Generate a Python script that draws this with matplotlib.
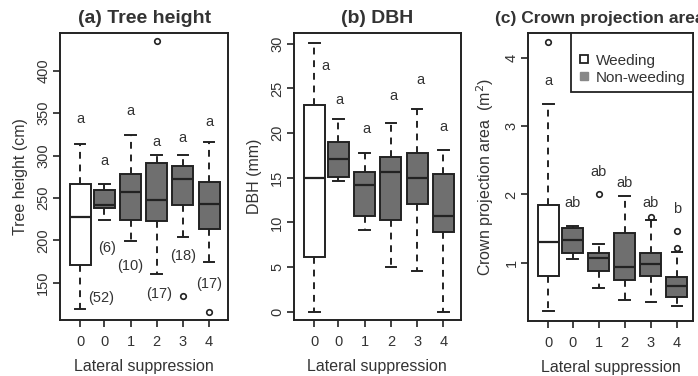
"""
Box plots of seedling growth by lateral suppression class, weeding vs non-weeding.
"""

import matplotlib
matplotlib.use("Agg")  # Non-interactive backend
import matplotlib.pyplot as plt
from matplotlib.lines import Line2D

plt.rcParams["font.family"] = ["Liberation Sans", "DejaVu Sans"]

# ---- data ----
group_labels = ["0", "0", "1", "2", "3", "4"]
weeding_flags = [True, False, False, False, False, False]

# (a) tree height, cm
height_q1 = [170.5, 238, 224, 223, 241.6, 213]
height_med = [228, 242, 257, 247, 272, 243]
height_q3 = [267, 259, 278, 291, 288, 269]
height_lo = [119, 224, 199, 160, 204, 174]
height_hi = [314, 267, 324, 301, 301, 316]
height_fliers = [[], [], [], [435], [134], [116]]
height_letters = ["a", "a", "a", "a", "a", "a"]
height_letter_y = [343, 293, 352, 316, 321, 340]
height_counts = ["(52)", "(6)", "(10)", "(17)", "(18)", "(17)"]
height_count_y = [132, 191, 170, 137, 181.5, 148.5]

# (b) DBH, mm
dbh_q1 = [6.15, 15.1, 10.7, 10.3, 12.1, 8.95]
dbh_med = [15.0, 17.07, 14.2, 15.6, 15.0, 10.7]
dbh_q3 = [23.2, 19.0, 15.6, 17.3, 17.8, 15.4]
dbh_lo = [0.0, 14.6, 9.1, 4.96, 4.5, 0.0]
dbh_hi = [30.1, 21.6, 17.8, 21.1, 22.7, 18.1]
dbh_fliers = [[], [], [], [], [], []]
dbh_letters = ["a", "a", "a", "a", "a", "a"]
dbh_letter_y = [27.5, 23.7, 20.5, 24.2, 25.9, 20.7]

# (c) crown projection area, m2
crown_q1 = [0.80, 1.14, 0.88, 0.75, 0.80, 0.49]
crown_med = [1.30, 1.33, 1.07, 0.94, 0.975, 0.65]
crown_q3 = [1.84, 1.50, 1.14, 1.44, 1.14, 0.78]
crown_lo = [0.29, 1.05, 0.62, 0.45, 0.42, 0.36]
crown_hi = [3.33, 1.53, 1.27, 1.97, 1.62, 1.155]
crown_fliers = [[4.24], [], [2.01], [], [1.67], [1.46, 1.21]]
crown_letters = ["a", "ab", "ab", "ab", "ab", "b"]
crown_letter_y = [3.67, 1.87, 2.33, 2.17, 1.87, 1.78]

# ---- layout / style ----
POSITIONS = [1.0, 1.92, 2.92, 3.92, 4.92, 5.92]
LINE = "#222222"
TEXT = "#333333"
GRAY = "#6f6f6f"


def draw_panel(ax, q1, med, q3, lo, hi, fliers, letters, letter_y,
               letter_dx, title, ylabel, yticks, ylim, xlim, title_size=14):
    stats = [dict(q1=a, med=m, q3=b, whislo=l, whishi=h, fliers=f)
             for a, m, b, l, h, f in zip(q1, med, q3, lo, hi, fliers)]
    bp = ax.bxp(
        stats, positions=POSITIONS, widths=0.8, patch_artist=True,
        boxprops=dict(edgecolor=LINE, linewidth=1.4),
        medianprops=dict(color=LINE, linewidth=1.6),
        whiskerprops=dict(color=LINE, linewidth=1.4, linestyle=(0, (3.5, 3))),
        capprops=dict(color=LINE, linewidth=1.4),
        flierprops=dict(marker="o", markersize=4, markerfacecolor="none",
                        markeredgecolor=LINE, markeredgewidth=1.2),
    )
    for box, weeded in zip(bp["boxes"], weeding_flags):
        box.set_facecolor("white" if weeded else GRAY)

    # significance letters
    for x, y, s, dx in zip(POSITIONS, letter_y, letters, letter_dx):
        ax.text(x + dx, y, s, ha="center", va="center", fontsize=10.5, color=TEXT)

    ax.set_xlim(*xlim)
    ax.set_ylim(*ylim)
    ax.set_xticks(POSITIONS, group_labels)
    ax.set_yticks(yticks, [f"{t:g}" for t in yticks], rotation=90, va="center")
    ax.tick_params(direction="out", length=5, width=1.2, color=LINE,
                   labelsize=10.5, labelcolor=TEXT)
    ax.tick_params(axis="x", pad=6)
    ax.tick_params(axis="y", pad=2)
    for sp in ax.spines.values():
        sp.set_linewidth(1.4)
        sp.set_color(LINE)

    ttl = ax.set_title(title, fontsize=title_size, fontweight="bold", pad=7, color=TEXT)
    ax.set_xlabel("Lateral suppression", fontsize=11.5, color=TEXT, labelpad=7)
    ax.set_ylabel(ylabel, fontsize=11.5, color=TEXT, labelpad=6)
    return ttl


fig = plt.figure(figsize=(6.98, 3.76), dpi=100)
ax_a = fig.add_axes([0.086, 0.149, 0.241, 0.763])
ax_b = fig.add_axes([0.421, 0.149, 0.239, 0.763])
ax_c = fig.add_axes([0.757, 0.147, 0.236, 0.765])

draw_panel(ax_a, height_q1, height_med, height_q3, height_lo, height_hi,
           height_fliers, height_letters, height_letter_y, [0] * 6,
           "(a) Tree height", "Tree height (cm)",
           [150, 200, 250, 300, 350, 400], (106, 444.5), (0.23, 6.65))

# sample sizes under the boxes of panel (a)
count_dx = [0.8, 0.1, 0, 0.1, 0, 0]
for x, y, s, dx in zip(POSITIONS, height_count_y, height_counts, count_dx):
    ax_a.text(x + dx, y, s, ha="center", va="center", fontsize=10.5, color=TEXT)

draw_panel(ax_b, dbh_q1, dbh_med, dbh_q3, dbh_lo, dbh_hi,
           dbh_fliers, dbh_letters, dbh_letter_y, [0.42, 0.05, 0.08, 0.08, 0.12, 0],
           "(b) DBH", "DBH (mm)",
           [0, 5, 10, 15, 20, 25, 30], (-0.93, 31.2), (0.22, 6.58))

ttl_c = draw_panel(ax_c, crown_q1, crown_med, crown_q3, crown_lo, crown_hi,
                   crown_fliers, crown_letters, crown_letter_y, [0] * 6,
                   "(c) Crown projection area", "Crown projection area  (m$^2$)",
                   [1, 2, 3, 4], (0.145, 4.37), (0.23, 6.54), title_size=12.5)
# title starts a little left of the axes and runs up to the figure edge
ttl_c.set_horizontalalignment("left")
ttl_c.set_x(-0.205)

handles = [
    Line2D([], [], marker="s", ls="", markerfacecolor="white", markeredgecolor=LINE,
           markersize=6, markeredgewidth=1.3, label="Weeding"),
    Line2D([], [], marker="s", ls="", markerfacecolor="#888888",
           markeredgecolor="#888888", markersize=6, label="Non-weeding"),
]
# blank title gives the extra room above the first row, as in the original
leg = ax_c.legend(handles=handles, loc="upper right", borderaxespad=0,
                  fancybox=False, edgecolor=LINE, framealpha=1, fontsize=11,
                  handlelength=0.6, handletextpad=0.5, borderpad=0.5,
                  labelspacing=0.2, title=" ", title_fontsize=7)
leg.get_frame().set_linewidth(1.3)
for t in leg.get_texts():
    t.set_color(TEXT)

fig.savefig("out.png", dpi=100)
plt.close(fig)
